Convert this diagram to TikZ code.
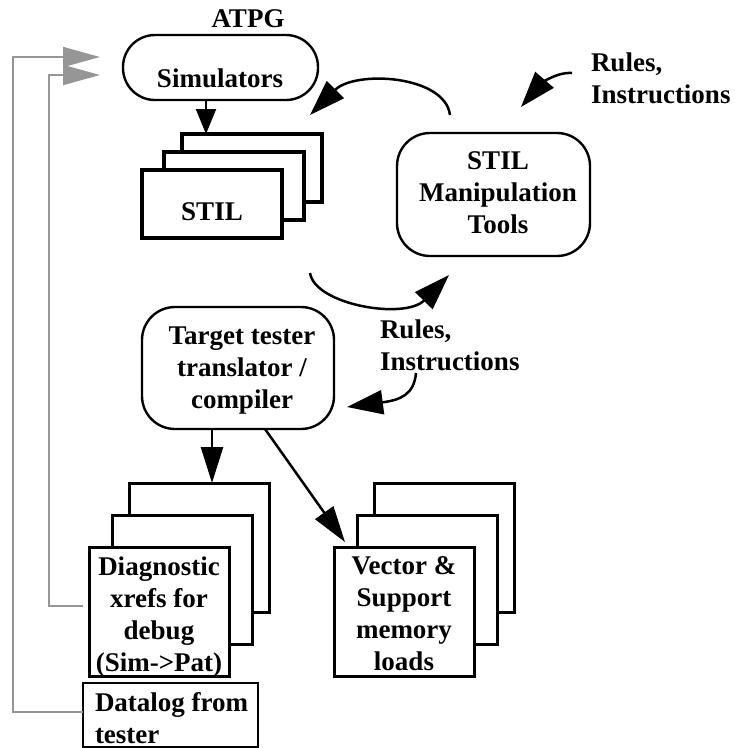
\documentclass[tikz,border=0pt]{standalone}
\usepackage{fontspec}
\setmainfont{Liberation Serif}
\usetikzlibrary{arrows.meta}
\definecolor{linegray}{RGB}{150,150,150}
\begin{document}
\begin{tikzpicture}[x=1pt,y=-1pt,
  every node/.style={font=\fontsize{27}{32}\selectfont\bfseries, inner sep=0pt, outer sep=0pt},
  txt/.style={align=center},
  roundbox/.style={draw, line width=2.4pt, rounded corners=33pt},
  thickbox/.style={draw, fill=white, line width=4pt, minimum width=140pt, minimum height=68pt},
  pagebox/.style={draw, fill=white, line width=3pt, minimum width=140pt, minimum height=129pt},
  arr/.style={line width=2.5pt, -{Triangle[length=36pt,width=22pt]}},
  smallarr/.style={line width=2pt, -{Triangle[length=25pt,width=20pt]}},
  carr/.style={line width=2.5pt, -{Triangle[length=36pt,width=24pt]}},
  garr/.style={draw=linegray, line width=1.8pt, -{Triangle[length=37pt,width=20pt,color=linegray]}}
]
\useasboundingbox (0,0) rectangle (735,748);

% Simulators
\node[roundbox, minimum width=195pt, minimum height=65pt, rounded corners=32pt] (sim) at (220.5,67.5) {};
\node (simtxt) at (220,78) {Simulators};
\node (atpg) at (248,19) {ATPG};

% STIL stack
\node[thickbox] (stilc) at (252,168) {};
\node[thickbox] (stilb) at (234,186) {};
\node[thickbox] (stila) at (212,204) {};
\node (stiltxt) at (212,212) {STIL};

% STIL Manipulation Tools
\node[roundbox, minimum width=193pt, minimum height=123pt] (manip) at (493.5,194.5) {};
\node[txt] (maniptxt) at (498,193) {STIL\\Manipulation\\Tools};

% Translator
\node[roundbox, minimum width=192pt, minimum height=122pt] (tr) at (238,368) {};
\node[txt] (trtxt) at (242,371) {Target tester\\translator /\\compiler};

% Diagnostic stack
\node[pagebox] (diagc) at (199,547.5) {};
\node[pagebox] (diagb) at (182,580) {};
\node[pagebox] (diaga) at (159,611.5) {};
\node[txt] (diagtxt) at (159,617) {Diagnostic\\xrefs for\\debug\\(Sim->Pat)};

% Vector stack
\node[pagebox] (vecc) at (444.5,547.5) {};
\node[pagebox] (vecb) at (427,580) {};
\node[pagebox] (veca) at (404,611.5) {};
\node[txt] (vectxt) at (404,614) {Vector \&\\Support\\memory\\loads};

% Datalog
\node[draw, line width=1.3pt, minimum width=175pt, minimum height=64pt] (dl) at (170.5,715) {};
\node[align=left, anchor=north west] (dltxt) at (95,692) {Datalog from\\tester};

% Rules texts
\node[align=left, anchor=north west] (rules1) at (591,52.5) {Rules,\\Instructions};
\node[align=left, anchor=north west] (rules2) at (380,319.5) {Rules,\\Instructions};

% curved arrows
\coordinate (c1s) at (450,115); \coordinate (c1e) at (310,115);
\draw[carr] (c1s) .. controls (445,75) and (355,70) .. (c1e);
\coordinate (c2s) at (572,73); \coordinate (c2e) at (521,107);
\draw[carr] (c2s) .. controls (555,72) and (540,85) .. (c2e);
\coordinate (c3s) at (310,273); \coordinate (c3e) at (449,275);
\draw[carr] (c3s) .. controls (315,305) and (405,320) .. (c3e);
\coordinate (c4s) at (416,373); \coordinate (c4e) at (347,407);
\draw[carr] (c4s) .. controls (414,395) and (400,400) .. (c4e);

% straight arrows
\draw[smallarr] ([xshift=-14.5pt]sim.south) -- ([xshift=-14.5pt]sim.south |- stilc.north);
\draw[arr] ([xshift=-26pt]tr.south) -- ([xshift=-26pt]tr.south |- diagc.north);
\draw[arr] ([xshift=27pt]tr.south) -- ([xshift=11pt,yshift=5pt]veca.north west);

% gray feedback arrows
\coordinate (g1) at ([xshift=-23pt,yshift=10.5pt]sim.west);
\coordinate (g2) at ([xshift=-23pt,yshift=-7.5pt]sim.west);
\draw[garr] ([yshift=3pt]dl.west) -- ++(-70,0) |- (g1);
\draw[garr] ([xshift=-6pt,yshift=5.5pt]diaga.west) -- ++(-34,0) |- (g2);
\end{tikzpicture}
\end{document}
